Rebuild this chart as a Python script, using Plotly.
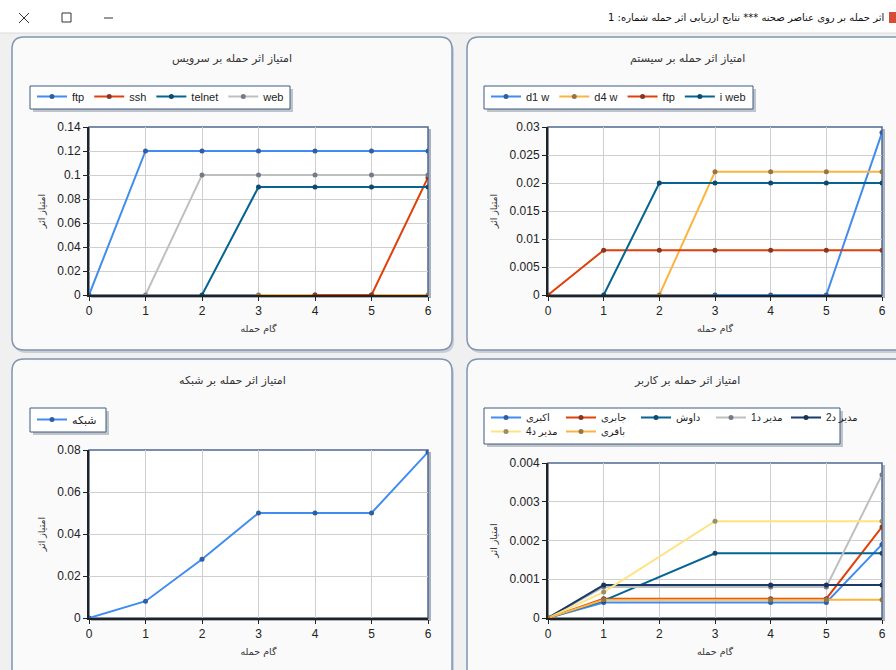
import plotly.graph_objects as go

# ---------------- data ----------------
steps = [0, 1, 2, 3, 4, 5, 6]

# chart 1: service
svc_names = ["ftp", "ssh", "telnet", "web"]
svc_ftp = [0, 0.12, 0.12, 0.12, 0.12, 0.12, 0.12]
svc_hidden = [None, None, None, 0, 0, 0, 0]
svc_ssh = [None, None, None, None, 0, 0, 0.098]
svc_telnet = [None, None, 0, 0.09, 0.09, 0.09, 0.09]
svc_web = [None, 0, 0.1, 0.1, 0.1, 0.1, 0.1]

# chart 2: system
sys_names = ["d1 w", "d4 w", "ftp", "i web"]
sys_d1w = [None, None, None, 0, 0, 0, 0.029]
sys_d4w = [None, None, 0, 0.022, 0.022, 0.022, 0.022]
sys_ftp = [0, 0.008, 0.008, 0.008, 0.008, 0.008, 0.008]
sys_iweb = [None, 0, 0.02, 0.02, 0.02, 0.02, 0.02]

# chart 3: network
net_name = "شبکه"
net_values = [0, 0.008, 0.028, 0.05, 0.05, 0.05, 0.079]

# chart 4: user
usr_names = ["اکبری", "جابری", "داوش", "مدیر د1", "مدیر د2", "مدیر د4", "باقری"]
usr_akbari = [0, 0.0004, None, None, 0.0004, 0.0004, 0.0019]
usr_jaberi = [0, 0.0005, None, None, 0.0005, 0.0005, 0.00235]
usr_davesh = [0, 0.00045, None, 0.00167, None, None, 0.00167]
usr_mdir1 = [0, 0.0008, None, None, 0.0008, 0.0008, 0.0037]
usr_mdir2 = [0, 0.00085, None, None, 0.00085, 0.00085, 0.00085]
usr_mdir4 = [0, 0.00067, None, 0.0025, None, None, 0.0025]
usr_bagheri = [0, 0.00047, None, None, 0.00047, 0.00047, 0.00047]

chart_titles = ["امتیاز اثر حمله بر سرویس", "امتیاز اثر حمله بر سیستم",
                "امتیاز اثر حمله بر شبکه", "امتیاز اثر حمله بر کاربر"]
x_title = "گام حمله"
y_title = "امتیاز اثر"
window_title = "اثر حمله بر روی عناصر صحنه *** نتایج ارزیابی اثر حمله شماره: 1"

# ---------------- styling ----------------
W, H = 896, 670
BLUE, GOLD, RED, TEAL = "#418CF0", "#FCB441", "#E0400A", "#056492"
GRAY, NAVY, YELLOW = "#BFBFBF", "#1A3B69", "#FFE382"
FONT = "Liberation Sans, DejaVu Sans, sans-serif"
PFONT = "DejaVu Sans, Liberation Sans, sans-serif"


def X(px):
    return px / W


def Y(py):
    return 1 - py / H


def darker(hexc, f=0.45):
    hexc = hexc.lstrip("#")
    r, g, b = (int(hexc[i:i + 2], 16) for i in (0, 2, 4))
    tr, tg, tb = 0x1A, 0x2A, 0x45
    return "#%02x%02x%02x" % (int(r + (tr - r) * f), int(g + (tg - g) * f), int(b + (tb - b) * f))


fig = go.Figure()

# plot areas in px: (left, right, top, bottom)
areas = [(89, 428, 127, 295), (548, 882, 127, 295),
         (89, 428, 450, 618), (548, 882, 463, 618)]
yranges = [(0, 0.14, 0.02), (0, 0.03, 0.005), (0, 0.08, 0.02), (0, 0.004, 0.001)]
panels = [(12, 452, 37, 350), (467, 920, 37, 350), (12, 452, 359, 700), (467, 920, 359, 700)]
legend_boxes = [(30, 290, 86, 109), (484, 753, 86, 109), (30, 106, 408, 432), (484, 840, 408, 444)]

series = [
    # (subplot index, name, values, color, legend, showlegend)
    (0, svc_names[0], svc_ftp, BLUE, "legend", True),
    (0, "", svc_hidden, GOLD, "legend", False),
    (0, svc_names[1], svc_ssh, RED, "legend", True),
    (0, svc_names[2], svc_telnet, TEAL, "legend", True),
    (0, svc_names[3], svc_web, GRAY, "legend", True),
    (1, sys_names[0], sys_d1w, BLUE, "legend2", True),
    (1, sys_names[1], sys_d4w, GOLD, "legend2", True),
    (1, sys_names[2], sys_ftp, RED, "legend2", True),
    (1, sys_names[3], sys_iweb, TEAL, "legend2", True),
    (2, net_name, net_values, BLUE, "legend3", True),
    (3, usr_names[0], usr_akbari, BLUE, "legend4", True),
    (3, usr_names[1], usr_jaberi, RED, "legend4", True),
    (3, usr_names[2], usr_davesh, TEAL, "legend4", True),
    (3, usr_names[3], usr_mdir1, GRAY, "legend4", True),
    (3, usr_names[4], usr_mdir2, NAVY, "legend4", True),
    (3, usr_names[5], usr_mdir4, YELLOW, "legend5", True),
    (3, usr_names[6], usr_bagheri, GOLD, "legend5", True),
]

for idx, name, vals, col, leg, show in series:
    sfx = "" if idx == 0 else str(idx + 1)
    fig.add_trace(go.Scatter(
        x=steps, y=vals, name=name, mode="lines+markers", connectgaps=True,
        line=dict(color=col, width=2),
        marker=dict(size=5, color=darker(col), line=dict(width=0)),
        xaxis="x" + sfx, yaxis="y" + sfx, legend=leg, showlegend=show,
        hoverinfo="x+y+name",
    ))

shapes = []
annotations = []

# window title bar
shapes.append(dict(type="rect", xref="paper", yref="paper", x0=X(0), x1=X(W), y0=Y(0), y1=Y(33),
                   fillcolor="white", line=dict(width=0), layer="below"))
shapes.append(dict(type="line", xref="paper", yref="paper", x0=X(0), x1=X(W), y0=Y(33), y1=Y(33),
                   line=dict(color="#DADADA", width=1), layer="below"))
# close / maximize / minimize icons
shapes.append(dict(type="line", xref="paper", yref="paper", x0=X(19), x1=X(29), y0=Y(13), y1=Y(23),
                   line=dict(color="#333", width=1), layer="below"))
shapes.append(dict(type="line", xref="paper", yref="paper", x0=X(19), x1=X(29), y0=Y(23), y1=Y(13),
                   line=dict(color="#333", width=1), layer="below"))
shapes.append(dict(type="rect", xref="paper", yref="paper", x0=X(62), x1=X(71), y0=Y(13), y1=Y(22),
                   line=dict(color="#333", width=1), fillcolor="white", layer="below"))
shapes.append(dict(type="line", xref="paper", yref="paper", x0=X(104), x1=X(113), y0=Y(18), y1=Y(18),
                   line=dict(color="#333", width=1), layer="below"))
shapes.append(dict(type="rect", xref="paper", yref="paper", x0=X(889), x1=X(897), y0=Y(12), y1=Y(23),
                   line=dict(width=0), fillcolor="#D64B3A", layer="below"))
annotations.append(dict(text=window_title, x=X(886), y=Y(18), xref="paper", yref="paper",
                        xanchor="right", yanchor="middle", showarrow=False,
                        font=dict(family=PFONT, size=10, color="#111")))


def rr_path(x0, y0, x1, y1, r):
    rx, ry = r / W, r / H
    a, b, c, d = X(x0), X(x1), Y(y0), Y(y1)  # c top, d bottom
    return (f"M{a + rx},{c} L{b - rx},{c} Q{b},{c} {b},{c - ry} "
            f"L{b},{d + ry} Q{b},{d} {b - rx},{d} L{a + rx},{d} Q{a},{d} {a},{d + ry} "
            f"L{a},{c - ry} Q{a},{c} {a + rx},{c} Z")


for i in range(4):
    px0, px1, py0, py1 = panels[i]
    # panel shadow + panel
    shapes.append(dict(type="path", xref="paper", yref="paper", path=rr_path(px0 + 2, py0 + 3, px1 + 2, py1 + 3, 12),
                       fillcolor="#C9CDD4", line=dict(width=0), layer="below"))
    shapes.append(dict(type="path", xref="paper", yref="paper", path=rr_path(px0, py0, px1, py1, 12),
                       fillcolor="#FAFAFB", line=dict(color="#8194B0", width=1.5), layer="below"))
    # legend box shadow + box
    lx0, lx1, ly0, ly1 = legend_boxes[i]
    shapes.append(dict(type="rect", xref="paper", yref="paper", x0=X(lx0 + 3), x1=X(lx1 + 3), y0=Y(ly0 + 3), y1=Y(ly1 + 3),
                       fillcolor="#BFC3CA", line=dict(width=0), layer="below"))
    shapes.append(dict(type="rect", xref="paper", yref="paper", x0=X(lx0), x1=X(lx1), y0=Y(ly0), y1=Y(ly1),
                       fillcolor="white", line=dict(color="#3E5A80", width=1), layer="below"))
    # plot area shadow + white plot area
    ax0, ax1, ay0, ay1 = areas[i]
    shapes.append(dict(type="rect", xref="paper", yref="paper", x0=X(ax0 + 2), x1=X(ax1 + 3), y0=Y(ay0 + 2), y1=Y(ay1 + 3),
                       fillcolor="#A9B1BE", line=dict(width=0), layer="below"))
    shapes.append(dict(type="rect", xref="paper", yref="paper", x0=X(ax0), x1=X(ax1), y0=Y(ay0), y1=Y(ay1),
                       fillcolor="white", line=dict(color="#4F6A90", width=1.5), layer="below"))
    # chart title
    annotations.append(dict(text=chart_titles[i], x=X((px0 + min(px1, 907)) / 2), y=Y(py0 + 21),
                            xref="paper", yref="paper", xanchor="center", yanchor="middle", showarrow=False,
                            font=dict(family=PFONT, size=11, color="#333")))

layout = dict(
    width=W, height=H, margin=dict(l=0, r=0, t=0, b=0, autoexpand=False),
    paper_bgcolor="#F0F0F0", plot_bgcolor="rgba(0,0,0,0)",
    shapes=shapes, annotations=annotations, hovermode="closest",
)

for i in range(4):
    sfx = "" if i == 0 else str(i + 1)
    ax0, ax1, ay0, ay1 = areas[i]
    y0, y1, dy = yranges[i]
    layout["xaxis" + sfx] = dict(
        domain=[X(ax0), X(ax1)], anchor="y" + sfx, range=[0, 6], dtick=1, tick0=0,
        showgrid=True, gridcolor="#CFCFCF", gridwidth=1, zeroline=False,
        showline=True, linecolor="#222", linewidth=2, ticks="outside", ticklen=4,
        tickcolor="#222", tickfont=dict(family=FONT, size=12, color="#222"),
        title=dict(text=x_title, font=dict(family=PFONT, size=9.5, color="#333"), standoff=8),
        fixedrange=True, layer="below traces", automargin=False,
    )
    layout["yaxis" + sfx] = dict(
        domain=[Y(ay1), Y(ay0)], anchor="x" + sfx, range=[y0, y1], dtick=dy, tick0=0,
        showgrid=True, gridcolor="#CFCFCF", gridwidth=1, zeroline=False,
        showline=True, linecolor="#222", linewidth=2, ticks="outside", ticklen=4,
        tickcolor="#222", tickfont=dict(family=FONT, size=12, color="#222"),
        title=dict(text=y_title, font=dict(family=PFONT, size=9.5, color="#333"), standoff=10),
        fixedrange=True, layer="below traces", automargin=False,
    )

leg_common = dict(orientation="h", bgcolor="rgba(0,0,0,0)", borderwidth=0,
                  font=dict(family=FONT, size=11, color="#222"),
                  xanchor="left", yanchor="top", itemclick=False, itemdoubleclick=False)
leg_pos = {"legend": (32, 82), "legend2": (486, 82), "legend3": (32, 405),
           "legend4": (486, 403), "legend5": (486, 417)}
for k, (lx, ly) in leg_pos.items():
    layout[k] = dict(leg_common, x=X(lx), y=Y(ly))
layout["legend4"]["entrywidth"] = 30
layout["legend5"]["entrywidth"] = 30
layout["legend4"]["font"] = dict(family=FONT, size=10, color="#222")
layout["legend5"]["font"] = dict(family=FONT, size=10, color="#222")

fig.update_layout(**layout)

fig.write_html("out.html", config={"displayModeBar": False},
               post_script="document.body.style.margin='0';document.body.style.overflow='hidden';")
